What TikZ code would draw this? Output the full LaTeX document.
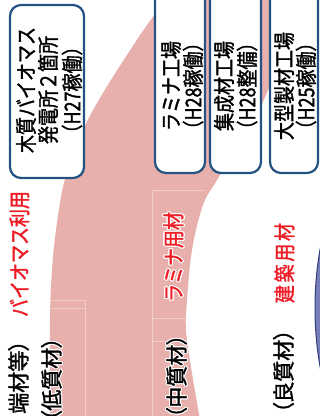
\documentclass[tikz,border=0pt]{standalone}
\usepackage{fontspec}
\setmainfont{Noto Sans CJK JP}[FakeBold=1.6]
\usepackage{graphicx}
\usepackage{contour}
\contourlength{1pt}
\newcommand\mystretch[1]{\scalebox{1}[1.2]{#1}}
\newcommand\mylabelstretch[1]{\scalebox{1}[1.04]{#1}}
\definecolor{pinkband}{RGB}{231,176,172}
\definecolor{pinkline}{RGB}{242,206,203}
\definecolor{boxblue}{RGB}{35,82,130}
\definecolor{labelred}{RGB}{238,28,36}
\definecolor{ovalfill}{RGB}{120,126,186}
\definecolor{ovalline}{RGB}{52,62,122}
\tikzset{
  facility/.style={draw=boxblue, line width=2.2pt, fill=white, rounded corners=11pt, inner sep=0pt},
  boxtext/.style={rotate=90, inner sep=0pt, font=\fontsize{18}{22}\selectfont},
  redlabel/.style={rotate=90, inner sep=0pt, text=labelred, font=\fontsize{18}{22}\selectfont},
  blacklabel/.style={rotate=90, inner sep=0pt, anchor=east, text=black, font=\fontsize{21}{25}\selectfont\addfontfeature{RawFeature=+palt}},
  faint/.style={draw=pinkline, line width=0.7pt}
}
\begin{document}
\begin{tikzpicture}[x=1pt,y=-1pt]
\useasboundingbox (0,0) rectangle (320,416);
\clip (0,0) rectangle (320,416);
\fill[white] (0,0) rectangle (320,416);
% pink band
\fill[pinkband] plot[smooth, tension=0.6] coordinates {(180,-12) (153,17) (125,58) (100,98) (86,124) (72,160) (63,187) (56,230) (52,270) (50,320) (50,420)}
  -- plot[smooth, tension=0.6] coordinates {(200,420) (191,367) (186,330) (187,300) (192,250) (203,205) (217,180) (243,135) (268,90) (300,-12)} -- cycle;
% faint outlines inside the band
\draw[faint] (152,190) -- (205,190);
\draw[faint] (152,190) -- (152,416);
\draw[faint] (152,318) -- (187,318);
\draw[faint] (152,341) -- (164,341);
\draw[faint] (50,300) -- (85,300);
\draw[faint] (50,308) -- (85,308);
\draw[faint] (85,300) -- (85,416);
% blue oval at right
\filldraw[fill=ovalfill, draw=ovalline, line width=1pt] (415,308) ellipse [x radius=100, y radius=186];
% facility boxes
\node[facility, minimum width=74pt, minimum height=173pt] (b1) at (47,91.5) {};
\node[facility, minimum width=50pt, minimum height=203pt] (b2) at (180,71.5) {};
\node[facility, minimum width=51pt, minimum height=203pt] (b3) at (235.5,71.5) {};
\node[facility, minimum width=48pt, minimum height=203pt] (b4) at (294,71.5) {};
\node[boxtext] (t1a) at (26,90) {\mystretch{木質バイオマス}};
\node[boxtext] (t1b) at (48,90) {\mystretch{発電所２箇所}};
\node[boxtext] (t1c) at (72,90) {\mystretch{（H27稼働）}};
\node[boxtext] (t2a) at (171,86) {\mystretch{ラミナ工場}};
\node[boxtext] (t2b) at (193,86) {\mystretch{（H28稼働）}};
\node[boxtext] (t3a) at (224,86) {\mystretch{集成材工場}};
\node[boxtext] (t3b) at (247,86) {\mystretch{（H28整備）}};
\node[boxtext] (t4a) at (284,86) {\mystretch{大型製材工場}};
\node[boxtext] (t4b) at (306,86) {\mystretch{（H25稼働）}};
% red use labels
\node[redlabel] (r1) at (20,254) {\mystretch{\contour{white}{バイオマス利用}}};
\node[redlabel] (r2) at (174,257) {\mystretch{\contour{white}{ラミナ用材}}};
\node[redlabel, font=\fontsize{18}{22}\selectfont\addfontfeature{LetterSpace=15}] (r3) at (285,263) {\mystretch{\contour{white}{建築用材}}};
% quality labels
\node[blacklabel] (q1) at (19,340) {\mylabelstretch{\contour{white}{端材等）}}};
\node[blacklabel] (q2) at (52,337) {\mylabelstretch{\contour{white}{（低質材）}}};
\node[blacklabel] (q3) at (177,334) {\mylabelstretch{\contour{white}{（中質材）}}};
\node[blacklabel] (q4) at (284,329) {\mylabelstretch{\contour{white}{（良質材）}}};
\end{tikzpicture}
\end{document}
